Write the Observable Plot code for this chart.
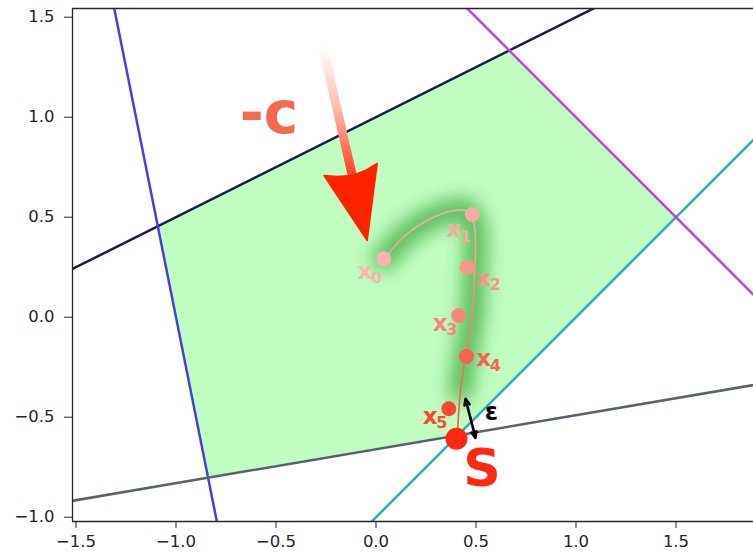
<!DOCTYPE html>
<html><head><meta charset="utf-8">
<script src="https://cdn.jsdelivr.net/npm/d3@7"></script>
<script src="https://cdn.jsdelivr.net/npm/@observablehq/plot@0.6"></script>
<style>html,body{margin:0;padding:0;background:#fff;overflow:hidden}</style>
</head><body><div id="chart"></div>
<script>
// ---- data ----
const xTicks = [-1.5, -1.0, -0.5, 0.0, 0.5, 1.0, 1.5];
const yTicks = [-1.0, -0.5, 0.0, 0.5, 1.0, 1.5];
const xDomain = [-1.5175, 1.8875];
const yDomain = [-1.0215, 1.5435];

// constraint lines: a*x + b*y (sense) c
const lineNames = ["top", "left", "bottom", "lowerRight", "upperRight"];
const lineA = [-0.5, 1, -0.17, 1, 1];
const lineB = [1, 0.2, 1, -1, 1];
const lineC = [1, -1, -0.66, 1, 2];
const lineSense = ["<=", ">=", ">=", "<=", "<="];

// iterates x0..x5 and solution S
const iterNames = ["0", "1", "2", "3", "4", "5"];
const iterX = [0.039, 0.481, 0.456, 0.414, 0.4525, 0.364];
const iterY = [0.292, 0.5135, 0.25, 0.0085, -0.1965, -0.458];
const iterLabelX = [-0.0925, 0.351, 0.501, 0.284, 0.501, 0.234];
const iterLabelY = [0.192, 0.40, 0.1585, -0.0665, -0.244, -0.533];
const solX = [0.4025];
const solY = [-0.608];

// continuous trajectory
const pathX = [0.039, 0.156, 0.2725, 0.3725, 0.456, 0.489, 0.4975, 0.4925, 0.481, 0.4475, 0.4225, 0.406];
const pathY = [0.292, 0.417, 0.492, 0.530, 0.530, 0.467, 0.367, 0.217, 0.0, -0.19, -0.3665, -0.60];

// -c arrow
const costTail = [-0.2675, 1.3585];
const costTip = [-0.044, 0.3835];
const costLabel = ["-c"];
const costLabelX = [-0.535];
const costLabelY = [1.0115];

// epsilon marker
const epsX = [0.4475, 0.4975];
const epsY = [-0.4085, -0.6035];

// ---- styles ----
const lineColors = ["#1c1b45", "#4a3ed8", "#58626e", "#2aaeb6", "#c044de"];
const pointColors = ["#f8b6ac", "#f8aaa0", "#f69688", "#f58778", "#f56450", "#f54b37"];
const solColor = "#ff2810";
const font = "DejaVu Sans";

// ---- derived geometry ----
function clipPoly(poly, a, b, c, sense) {
  const s = sense === "<=" ? 1 : -1;
  const f = p => s * (a * p[0] + b * p[1] - c);
  const out = [];
  for (let i = 0; i < poly.length; i++) {
    const P = poly[i], Q = poly[(i + 1) % poly.length];
    const fp = f(P), fq = f(Q);
    if (fp <= 0) out.push(P);
    if ((fp < 0 && fq > 0) || (fp > 0 && fq < 0)) {
      const t = fp / (fp - fq);
      out.push([P[0] + t * (Q[0] - P[0]), P[1] + t * (Q[1] - P[1])]);
    }
  }
  return out;
}
let region = [[-5, -5], [5, -5], [5, 5], [-5, 5]];
lineNames.forEach((n, i) => { region = clipPoly(region, lineA[i], lineB[i], lineC[i], lineSense[i]); });
region.push(region[0]);

const far = [-3, 3];
const segs = lineNames.map((n, i) => {
  const a = lineA[i], b = lineB[i], c = lineC[i];
  if (Math.abs(b) >= Math.abs(a)) return far.map(x => ({x, y: (c - a * x) / b}));
  return far.map(y => ({y, x: (c - b * y) / a}));
});

const path = pathX.map((x, i) => ({x, y: pathY[i]}));
const glowPath = path.filter(d => d.y > -0.47);
const iters = iterNames.map((n, i) => ({n, x: iterX[i], y: iterY[i], lx: iterLabelX[i], ly: iterLabelY[i]}));

// arrow head for -c
const L = Math.hypot(costTip[0] - costTail[0], costTip[1] - costTail[1]);
const u = [(costTip[0] - costTail[0]) / L, (costTip[1] - costTail[1]) / L];
const nrm = [-u[1], u[0]];
const headProfile = [[0, 0], [-0.365, -0.138], [-0.345, -0.075], [-0.333, 0], [-0.345, 0.075], [-0.365, 0.135], [0, 0]];
const head = headProfile.map(([al, sd]) => ({x: costTip[0] + al * u[0] + sd * nrm[0], y: costTip[1] + al * u[1] + sd * nrm[1]}));
const shaft = [{x1: costTail[0], y1: costTail[1], x2: costTip[0] - 0.3 * u[0], y2: costTip[1] - 0.3 * u[1]}];

const epsMid = [(epsX[0] + epsX[1]) / 2, (epsY[0] + epsY[1]) / 2];
const epsArrows = [0, 1].map(i => ({x1: epsMid[0], y1: epsMid[1], x2: epsX[i], y2: epsY[i]}));

function defs() {
  const d = d3.create("svg:defs");
  const f = d.append("filter").attr("id", "glowBlur").attr("x", "-80%").attr("y", "-40%").attr("width", "260%").attr("height", "180%");
  f.append("feGaussianBlur").attr("stdDeviation", 9);
  const g1 = d.append("linearGradient").attr("id", "shaftGrad").attr("x1", 0).attr("y1", 0).attr("x2", 0).attr("y2", 1);
  [[0, "#ffffff"], [0.45, "#fcbdb3"], [1, "#ff3418"]].forEach(([o, c]) => g1.append("stop").attr("offset", o).attr("stop-color", c));
  const g2 = d.append("linearGradient").attr("id", "trajGrad").attr("x1", 0).attr("y1", 0).attr("x2", 0).attr("y2", 1);
  [[0, "#f7b2a8"], [1, "#f4553c"]].forEach(([o, c]) => g2.append("stop").attr("offset", o).attr("stop-color", c));
  return d.node();
}

const marks = [
  defs,
  Plot.line(region, {x: d => d[0], y: d => d[1], fill: "#98fb98", fillOpacity: 0.6, stroke: "none", clip: true}),
  ...segs.map((s, i) => Plot.line(s, {x: "x", y: "y", stroke: lineColors[i], strokeWidth: 2.5, clip: true})),
  Plot.line(glowPath, {x: "x", y: "y", stroke: "#3aa83a", strokeWidth: 24, strokeOpacity: 0.75, curve: "catmull-rom", strokeLinecap: "round", ariaDescription: "glow"}),
  Plot.link(shaft, {x1: "x1", y1: "y1", x2: "x2", y2: "y2", stroke: "url(#shaftGrad)", strokeWidth: 9}),
  Plot.line(head, {x: "x", y: "y", fill: "#ff2200", stroke: "#ff2200", strokeWidth: 1.5, strokeLinejoin: "round", curve: "linear"}),
  Plot.text(costLabel, {x: () => costLabelX[0], y: () => costLabelY[0], text: d => d, fontSize: 58, fontWeight: "bold", fill: "#f46a50", fontFamily: font}),
  Plot.line(path, {x: "x", y: "y", stroke: "url(#trajGrad)", strokeWidth: 1.6, curve: "catmull-rom"}),
  ...iters.map((d, i) => Plot.dot([d], {x: "x", y: "y", r: 7.5, fill: pointColors[i], stroke: "none"})),
  ...iters.map((d, i) => Plot.text([d], {x: "lx", y: "ly", text: () => "x", textAnchor: "start", dy: -0.32 * 23, fontSize: 23, fontWeight: "bold", fill: pointColors[i], fontFamily: font})),
  ...iters.map((d, i) => Plot.text([d], {x: "lx", y: "ly", text: "n", textAnchor: "start", dx: 13.5, dy: 4.5 - 0.32 * 16, fontSize: 16, fontWeight: "bold", fill: pointColors[i], fontFamily: font})),
  Plot.dot(solX.map((x, i) => ({x, y: solY[i]})), {x: "x", y: "y", r: 11, fill: solColor, stroke: "none"}),
  Plot.arrow(epsArrows, {x1: "x1", y1: "y1", x2: "x2", y2: "y2", stroke: "black", strokeWidth: 2.6, headLength: 9, headAngle: 45}),
  Plot.text(["ε"], {x: () => solX[0], y: () => solY[0], text: d => d, dx: 35, dy: -26, fontSize: 24, fontWeight: "bold", fill: "black", fontFamily: font}),
  Plot.text(["S"], {x: () => solX[0], y: () => solY[0], text: d => d, dx: 25.5, dy: 31, fontSize: 52, fontWeight: "bold", fill: solColor, fontFamily: font}),
  Plot.ruleX([xDomain[0]], {stroke: "#262626", strokeWidth: 1.3}),
  Plot.ruleY([yDomain[0], yDomain[1]], {stroke: "#262626", strokeWidth: 1.3})
];

const fmt = d => (d < 0 ? "\u2212" : "") + Math.abs(d).toFixed(1);

const chart = Plot.plot({
  width: 753,
  height: 557,
  marginLeft: 72,
  marginRight: 0,
  marginTop: 8,
  marginBottom: 36,
  style: {fontFamily: font, fontSize: "16.5px", color: "#262626", background: "#fff"},
  x: {domain: xDomain, ticks: xTicks, tickFormat: fmt, tickSize: 7, tickPadding: 7, label: null},
  y: {domain: yDomain, ticks: yTicks, tickFormat: fmt, tickSize: 8, tickPadding: 10, label: null},
  marks
});
document.getElementById("chart").appendChild(chart);
const glowG = chart.querySelector('g[aria-description="glow"]');
if (glowG) glowG.setAttribute("filter", "url(#glowBlur)");
</script>
</body></html>
